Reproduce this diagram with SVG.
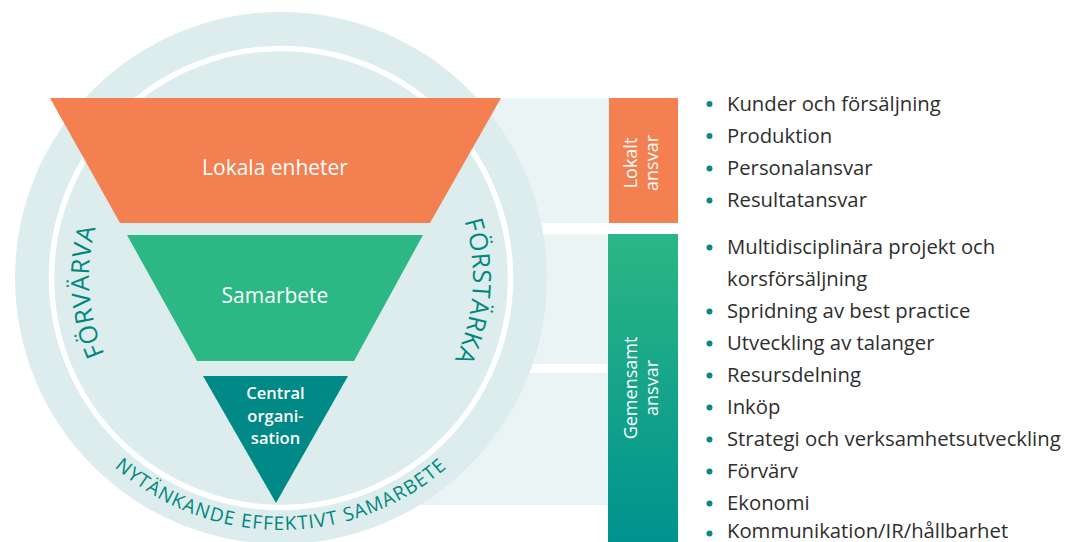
<svg xmlns="http://www.w3.org/2000/svg" width="1067" height="542" viewBox="0 0 1067 542">
  <defs>
    <linearGradient id="gGreen" x1="0" y1="0" x2="0" y2="1">
      <stop offset="0" stop-color="#2bb784"/>
      <stop offset="1" stop-color="#00928f"/>
    </linearGradient>
    <path id="arcLeft" d="M 281 470 A 192 192 0 0 1 281 86"/>
    <path id="arcRight" d="M 281 86 A 192 192 0 0 1 281 470"/>
    <path id="arcBottom" d="M 29 278 A 252 252 0 0 0 533 278"/>
  </defs>
  <style>
    .f { font-family: "Open Sans", "Noto Sans", "Liberation Sans", sans-serif; }
    .lbl { fill: #ffffff; font-weight: 500; font-size: 21px; text-anchor: middle; }
    .lblS { fill: #ffffff; font-weight: 600; font-size: 16.5px; text-anchor: middle; }
    .arc { fill: #00877f; font-size: 25px; letter-spacing: 0.6px; }
    .arcB { fill: #00877f; font-size: 19px; letter-spacing: 1.1px; }
    .box { fill: #ffffff; font-size: 18px; font-weight: 500; text-anchor: middle; }
    .li { fill: #2e2e2e; font-size: 20.3px; }
    .dot { fill: #0a8a84; }
    .band { fill: #eaf4f4; }
  </style>

  <g id="connectors">
    <rect class="band" x="281" y="98" width="328" height="125"/>
    <rect class="band" x="281" y="234" width="328" height="130"/>
    <rect class="band" x="281" y="373" width="328" height="132"/>
  </g>

  <g id="circle">
    <circle cx="281" cy="278" r="266" fill="#ddeced"/>
    <circle cx="281" cy="278" r="229.5" fill="none" stroke="#ffffff" stroke-width="5.5"/>
  </g>

  <g id="node-lokala-enheter">
    <polygon points="50,98 501,98 430,223 120,223" fill="#f47f50"/>
    <text class="f lbl" x="275" y="175">Lokala enheter</text>
  </g>
  <g id="node-samarbete">
    <polygon points="127,235 423,235 354,361 197,361" fill="#2bb884"/>
    <text class="f lbl" x="275" y="303">Samarbete</text>
  </g>
  <g id="node-central">
    <polygon points="203,376 348,376 276,503" fill="#008986"/>
    <text class="f lblS" x="275.5" y="399">Central</text>
    <text class="f lblS" x="275.5" y="422">organi-</text>
    <text class="f lblS" x="275.5" y="444">sation</text>
  </g>

  <g id="ring-labels">
    <text class="f arc" text-anchor="middle"><textPath href="#arcLeft" startOffset="288">FÖRVÄRVA</textPath></text>
    <text class="f arc" text-anchor="middle"><textPath href="#arcRight" startOffset="315">FÖRSTÄRKA</textPath></text>
    <text class="f arcB" text-anchor="middle"><textPath href="#arcBottom" startOffset="50%">NYTÄNKANDE EFFEKTIVT SAMARBETE</textPath></text>
  </g>

  <g id="node-lokalt-ansvar">
    <rect x="609" y="98" width="69" height="125" fill="#f47f50"/>
    <text class="f box" transform="translate(637 163) rotate(-90)">Lokalt</text>
    <text class="f box" transform="translate(658 163) rotate(-90)">ansvar</text>
  </g>
  <g id="node-gemensamt-ansvar">
    <rect x="608" y="234" width="70" height="308" fill="url(#gGreen)"/>
    <text class="f box" transform="translate(637 388) rotate(-90)">Gemensamt</text>
    <text class="f box" transform="translate(658 388) rotate(-90)">ansvar</text>
  </g>

  <g id="list-lokalt">
    <circle class="dot" cx="709.5" cy="104" r="3"/>
    <text class="f li" x="727" y="110.5">Kunder och försäljning</text>
    <circle class="dot" cx="709.5" cy="136" r="3"/>
    <text class="f li" x="727" y="142.5">Produktion</text>
    <circle class="dot" cx="709.5" cy="168.5" r="3"/>
    <text class="f li" x="727" y="175">Personalansvar</text>
    <circle class="dot" cx="709.5" cy="200.5" r="3"/>
    <text class="f li" x="727" y="207">Resultatansvar</text>
  </g>
  <g id="list-gemensamt">
    <circle class="dot" cx="709.5" cy="247.5" r="3"/>
    <text class="f li" x="727" y="254">Multidisciplinära projekt och</text>
    <text class="f li" x="727" y="286">korsförsäljning</text>
    <circle class="dot" cx="709.5" cy="311.5" r="3"/>
    <text class="f li" x="727" y="318">Spridning av best practice</text>
    <circle class="dot" cx="709.5" cy="343.5" r="3"/>
    <text class="f li" x="727" y="350">Utveckling av talanger</text>
    <circle class="dot" cx="709.5" cy="375.5" r="3"/>
    <text class="f li" x="727" y="382">Resursdelning</text>
    <circle class="dot" cx="709.5" cy="407.5" r="3"/>
    <text class="f li" x="727" y="414">Inköp</text>
    <circle class="dot" cx="709.5" cy="439.5" r="3"/>
    <text class="f li" x="727" y="446">Strategi och verksamhetsutveckling</text>
    <circle class="dot" cx="709.5" cy="471.5" r="3"/>
    <text class="f li" x="727" y="478">Förvärv</text>
    <circle class="dot" cx="709.5" cy="503.5" r="3"/>
    <text class="f li" x="727" y="510">Ekonomi</text>
    <circle class="dot" cx="709.5" cy="533.5" r="3"/>
    <text class="f li" x="727" y="538">Kommunikation/IR/hållbarhet</text>
  </g>
</svg>
